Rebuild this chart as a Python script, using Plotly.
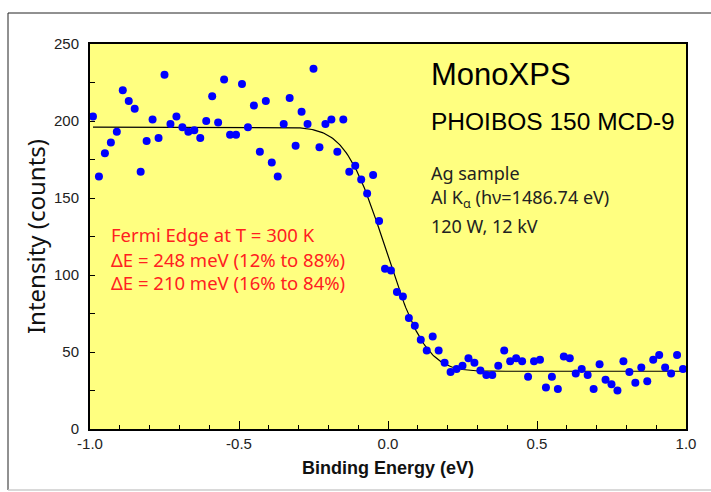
import math
import plotly.graph_objects as go

# ---- data ----
binding_energy = [round(-0.99 + 0.02 * i, 2) for i in range(100)]
intensity = [
    203, 164, 179, 186, 193, 220, 213, 208, 167, 187,
    201, 189, 230, 198, 203, 196, 193, 194, 189, 200,
    216, 199, 227, 191, 191, 224, 196, 210, 180, 213,
    173, 164, 198, 215, 184, 206, 198, 234, 183, 198,
    201, 180, 201, 167, 171, 162, 153, 165, 135, 104,
    103, 89, 86, 72, 67, 58, 51, 60, 51, 43,
    37, 39, 41, 46, 43, 38, 35, 35, 41, 51,
    44, 46, 44, 34, 44, 45, 27, 34, 26, 47,
    46, 36, 39, 35, 26, 42, 32, 29, 25, 44,
    37, 30, 40, 31, 45, 48, 40, 36, 48, 39,
]

# fitted Fermi-edge (Gaussian-broadened step) parameters
fit_background = 37.5
fit_step = 158.5
fit_edge = -0.008
fit_sigma = 0.1055
fit_x = [round(-0.99 + 0.005 * i, 3) for i in range(399)]
fit_y = [fit_background + fit_step * 0.5 * math.erfc((x - fit_edge) / (math.sqrt(2) * fit_sigma)) for x in fit_x]

x_tickvals = [-1.0, -0.5, 0.0, 0.5, 1.0]
x_ticktext = ["-1.0", "-0.5", "0.0", "0.5", "1.0"]
y_tickvals = [0, 50, 100, 150, 200, 250]

fig = go.Figure()
fig.add_trace(go.Scatter(
    x=fit_x, y=fit_y, mode="lines",
    line=dict(color="black", width=1.2), hoverinfo="skip", showlegend=False))
fig.add_trace(go.Scatter(
    x=binding_energy, y=intensity, mode="markers",
    marker=dict(color="#0000ff", size=8, line=dict(width=0)), showlegend=False))

W, H = 711, 492
L, R, T, B = 90, 25, 44, 63
pw, ph = W - L - R, H - T - B


def px(xp):
    return (xp - L) / pw


def py(yp):
    return (H - B - yp) / ph


tick_font = dict(family="Liberation Sans, Arial, sans-serif", size=15, color="#222222")

fig.update_layout(
    width=W, height=H,
    margin=dict(l=L, r=R, t=T, b=B),
    paper_bgcolor="white",
    plot_bgcolor="#ffff80",
    xaxis=dict(
        range=[-1.0, 1.0], tickvals=x_tickvals, ticktext=x_ticktext,
        ticks="inside", ticklen=8, tickwidth=1.2, tickcolor="black",
        minor=dict(dtick=0.1, ticks="inside", ticklen=4, tickwidth=1, tickcolor="black", showgrid=False),
        showgrid=False, zeroline=False, showline=True, linecolor="black", linewidth=2, mirror=True,
        tickfont=tick_font,
        title=dict(text="Binding Energy (eV)", standoff=10,
                   font=dict(family="Liberation Sans Narrow, Liberation Sans, Arial, sans-serif", size=18, color="#111111", weight="bold")),
    ),
    yaxis=dict(
        range=[0, 250], tickvals=y_tickvals,
        ticks="inside", ticklen=5, tickwidth=1.2, tickcolor="black",
        minor=dict(dtick=25, ticks="inside", ticklen=5, tickwidth=1, tickcolor="black", showgrid=False),
        showgrid=False, zeroline=False, showline=True, linecolor="black", linewidth=2, mirror=True,
        tickfont=tick_font, ticklabelstandoff=6,
        title=dict(text="Intensity (counts)", standoff=2,
                   font=dict(family="Noto Sans, sans-serif", size=24, color="#111111")),
    ),
    shapes=[
        dict(type="line", xref="paper", yref="paper", x0=px(8), x1=px(712), y0=py(13), y1=py(13),
             line=dict(color="#222222", width=1)),
        dict(type="line", xref="paper", yref="paper", x0=px(8), x1=px(8), y0=py(13), y1=py(490),
             line=dict(color="#222222", width=1)),
        dict(type="line", xref="paper", yref="paper", x0=px(8), x1=px(712), y0=py(490), y1=py(490),
             line=dict(color="#cccccc", width=1.5)),
    ],
)

info_font = dict(family="Noto Sans, sans-serif", size=18, color="#222222")
red_font = dict(family="Noto Sans, sans-serif", size=18.5, color="#ff2020")

annotations = [
    dict(x=0.139, y=230, text="MonoXPS", font=dict(family="Liberation Sans, Arial, sans-serif", size=31, color="black")),
    dict(x=0.139, y=200, text="PHOIBOS 150 MCD-9", font=dict(family="Liberation Sans, Arial, sans-serif", size=24.5, color="black")),
    dict(x=0.139, y=166, text="Ag sample", font=info_font),
    dict(x=0.139, y=149.5, text="Al K<sub>α</sub> (hν=1486.74 eV)", font=info_font),
    dict(x=0.139, y=131.5, text="120 W, 12 kV", font=info_font),
    dict(x=-0.935, y=126.5, text="Fermi Edge at T = 300 K", font=red_font),
    dict(x=-0.935, y=110, text="ΔE = 248 meV (12% to 88%)", font=red_font),
    dict(x=-0.935, y=95, text="ΔE = 210 meV (16% to 84%)", font=red_font),
]
for a in annotations:
    a.update(xref="x", yref="y", xanchor="left", yanchor="middle", showarrow=False)
fig.update_layout(annotations=annotations)

fig.write_html("out.html", config={"displayModeBar": False},
               post_script="document.body.style.margin='0';document.body.style.overflow='hidden';")
